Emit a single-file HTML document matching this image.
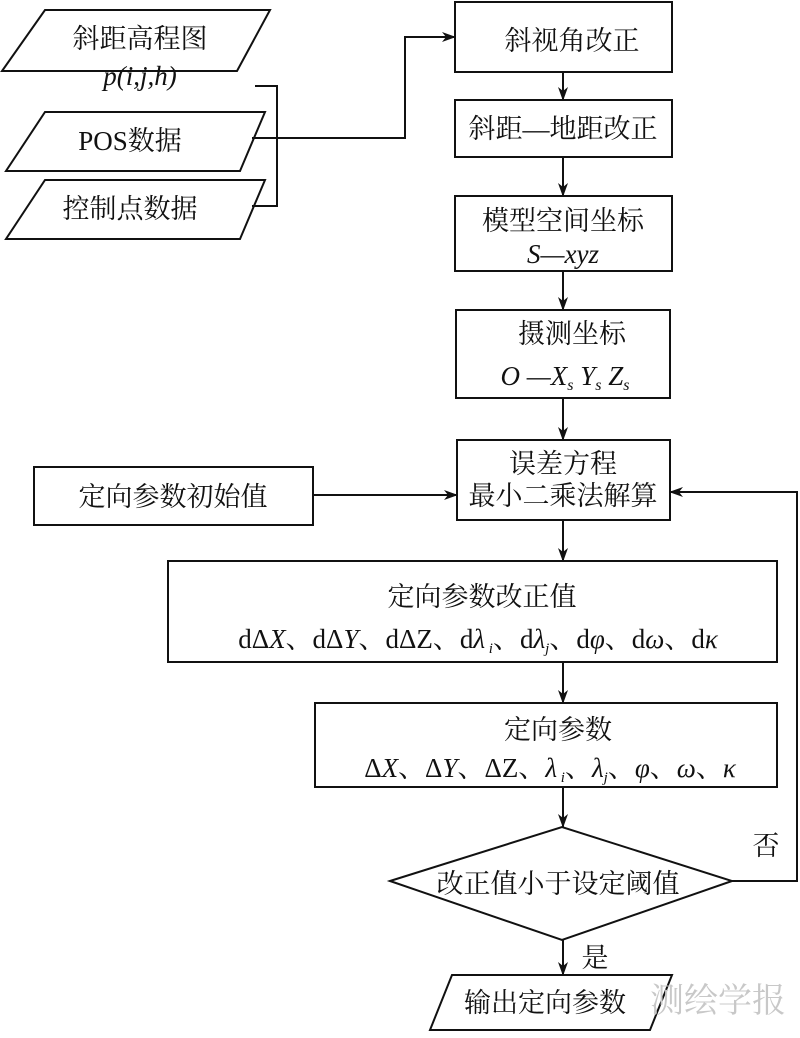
<!DOCTYPE html>
<html><head><meta charset="utf-8"><style>
body{margin:0;background:#fff}
svg text{font-family:"Liberation Serif","Noto Serif CJK SC",serif;fill:#111}
</style></head><body>
<svg width="800" height="1033" viewBox="0 0 800 1033" xmlns="http://www.w3.org/2000/svg">
<defs><marker id="a" markerWidth="14" markerHeight="10" refX="13" refY="5" orient="auto" markerUnits="userSpaceOnUse"><path d="M0,0 L14,5 L0,10 L4,5z" fill="#111"/></marker></defs>
<g fill="none" stroke="#111" stroke-width="2">
<polygon points="45,10 270,10 237,71 2,71"/>
<polygon points="45,112 265,112 240,171 6,171"/>
<polygon points="45,180 265,180 240,239 6,239"/>
<polyline points="255,86 277,86 277,206 252,206"/>
<polyline points="252,138 405,138 405,37 455,37" marker-end="url(#a)"/>
<rect x="455" y="2" width="217" height="70"/>
<rect x="455" y="100" width="217" height="57"/>
<rect x="455" y="196" width="217" height="75"/>
<rect x="456" y="310" width="214" height="88"/>
<rect x="457" y="440" width="213" height="80"/>
<rect x="34" y="467" width="279" height="58"/>
<rect x="168" y="561" width="609" height="101"/>
<rect x="315" y="703" width="462" height="84"/>
<polygon points="390,881 562,827 732,881 562,940"/>
<polygon points="452,975 672,975 650,1030 430,1030"/>
<line x1="563" y1="72" x2="563" y2="100" marker-end="url(#a)"/>
<line x1="563" y1="157" x2="563" y2="196" marker-end="url(#a)"/>
<line x1="563" y1="271" x2="563" y2="310" marker-end="url(#a)"/>
<line x1="563" y1="398" x2="563" y2="440" marker-end="url(#a)"/>
<line x1="313" y1="495" x2="457" y2="495" marker-end="url(#a)"/>
<line x1="563" y1="520" x2="563" y2="561" marker-end="url(#a)"/>
<line x1="563" y1="662" x2="563" y2="703" marker-end="url(#a)"/>
<line x1="563" y1="787" x2="563" y2="827" marker-end="url(#a)"/>
<line x1="563" y1="940" x2="563" y2="975" marker-end="url(#a)"/>
<polyline points="732,881 797,881 797,492 670,492" marker-end="url(#a)"/>
</g>
<g font-size="27" text-anchor="middle">
<text x="140" y="48">斜距高程图</text>
<text x="140" y="85" font-style="italic">p(i,j,h)</text>
<text x="130" y="150">POS数据</text>
<text x="130" y="218">控制点数据</text>
<text x="572" y="50">斜视角改正</text>
<text x="563" y="138">斜距—地距改正</text>
<text x="563" y="230">模型空间坐标</text>
<text x="563" y="263" font-style="italic">S—xyz</text>
<text x="572" y="343">摄测坐标</text>
<text x="565" y="385" font-style="italic">O —X<tspan font-size="16" dy="5">s</tspan><tspan dy="-5"> Y</tspan><tspan font-size="16" dy="5">s</tspan><tspan dy="-5"> Z</tspan><tspan font-size="16" dy="5">s</tspan></text>
<text x="563" y="473">误差方程</text>
<text x="563" y="505">最小二乘法解算</text>
<text x="173" y="506">定向参数初始值</text>
<text x="482" y="606">定向参数改正值</text>
<text x="478" y="648">dΔ<tspan font-style="italic">X</tspan>、dΔ<tspan font-style="italic">Y</tspan>、dΔZ、d<tspan font-style="italic">λ</tspan><tspan font-size="15" dy="5" font-style="italic"> i</tspan><tspan dy="-5">、d</tspan><tspan font-style="italic">λ</tspan><tspan font-size="15" dy="5" font-style="italic">j</tspan><tspan dy="-5">、d</tspan><tspan font-style="italic">φ</tspan>、d<tspan font-style="italic">ω</tspan>、d<tspan font-style="italic">κ</tspan></text>
<text x="558" y="739">定向参数</text>
<text x="550" y="777">Δ<tspan font-style="italic">X</tspan>、Δ<tspan font-style="italic">Y</tspan>、ΔZ、<tspan font-style="italic">λ</tspan><tspan font-size="15" dy="5" font-style="italic"> i</tspan><tspan dy="-5">、</tspan><tspan font-style="italic">λ</tspan><tspan font-size="15" dy="5" font-style="italic">j</tspan><tspan dy="-5">、</tspan><tspan font-style="italic">φ</tspan>、<tspan font-style="italic">ω</tspan>、<tspan font-style="italic">κ</tspan></text>
<text x="558" y="893">改正值小于设定阈值</text>
<text x="766" y="855">否</text>
<text x="595" y="967">是</text>
<text x="545" y="1012">输出定向参数</text>
</g>
<text x="718" y="1012" font-size="34" text-anchor="middle" style="fill:#c8c8c8">测绘学报</text>
</svg>
</body></html>
